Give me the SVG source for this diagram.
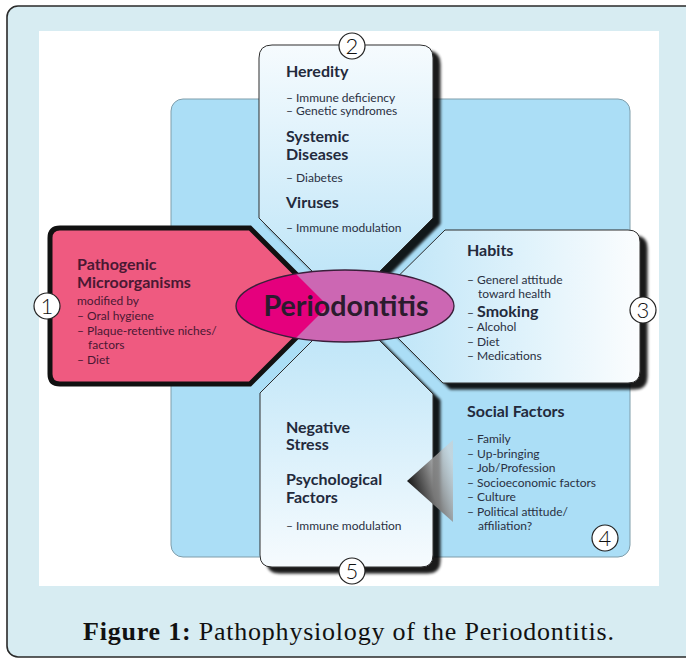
<svg xmlns="http://www.w3.org/2000/svg" width="686" height="659" viewBox="0 0 686 659">
<defs>
<style>
.h{font-family:Lato,"Open Sans",sans-serif;font-weight:bold;font-size:16px;fill:#232a3c}
.t{font-family:Lato,"Open Sans",sans-serif;font-size:12px;fill:#2a3042}
.p .h{fill:#4a1833}
.p .t{fill:#4a1833}
.num{font-family:Lato,"Open Sans",sans-serif;font-weight:300;font-size:22px;fill:#111;text-anchor:middle}
.nc{fill:#fff;stroke:#222;stroke-width:1.2}
.box{stroke:#2e2e2e;stroke-width:1}
</style>
<linearGradient id="g2" x1="0" y1="0" x2="0" y2="1"><stop offset="0" stop-color="#f6fbfe"/><stop offset="1" stop-color="#b9e3f7"/></linearGradient>
<linearGradient id="g3" x1="0" y1="0" x2="1" y2="0"><stop offset="0" stop-color="#b9e3f7"/><stop offset="1" stop-color="#fbfdfe"/></linearGradient>
<linearGradient id="g5" x1="0" y1="0" x2="0" y2="1"><stop offset="0" stop-color="#b9e3f7"/><stop offset="1" stop-color="#f6fbfe"/></linearGradient>
<linearGradient id="gt" gradientUnits="userSpaceOnUse" x1="407" y1="485" x2="455" y2="470"><stop offset="0" stop-color="#111"/><stop offset="0.45" stop-color="#777"/><stop offset="1" stop-color="#cfcfcf" stop-opacity="0.6"/></linearGradient>
<filter id="sh" x="-10%" y="-10%" width="130%" height="130%">
<feGaussianBlur in="SourceAlpha" stdDeviation="1.6"/>
<feOffset dx="7" dy="6" result="o"/>
<feComponentTransfer><feFuncA type="linear" slope="0.9"/></feComponentTransfer>
<feMerge><feMergeNode/><feMergeNode in="SourceGraphic"/></feMerge>
</filter>
<clipPath id="c1"><path d="M60,228 L250,228 L328,306 L250,384 L60,384 Q50,384 50,374 L50,238 Q50,228 60,228 Z"/></clipPath>
</defs>

<rect x="7" y="6" width="700" height="651" rx="11" fill="#d7ecf2" stroke="#2a2a2a" stroke-width="1.6"/>
<rect x="39" y="31" width="620" height="555" fill="#ffffff"/>
<rect x="171" y="99" width="459" height="458" rx="12" fill="#abdef6" stroke="#7f9daa" stroke-width="1"/>

<g id="node2">
<path class="box" filter="url(#sh)" fill="url(#g2)" d="M259,58 Q259,45 272,45 L420,45 Q433,45 433,58 L433,218 L346,305 L259,218 Z"/>
<text class="h" x="286" y="77" font-size="13.5">Heredity</text>
<text class="t" x="286" y="101.5">– Immune deficiency</text>
<text class="t" x="286" y="115">– Genetic syndromes</text>
<text class="h" x="286" y="141.5">Systemic</text>
<text class="h" x="286" y="160">Diseases</text>
<text class="t" x="286" y="182">– Diabetes</text>
<text class="h" x="286" y="207.5">Viruses</text>
<text class="t" x="286" y="232">– Immune modulation</text>
<circle class="nc" cx="352" cy="46" r="13"/>
<text class="num" x="352" y="54">2</text>
</g>

<g id="node3">
<path class="box" filter="url(#sh)" fill="url(#g3)" d="M445,230 L628,230 Q640,230 640,242 L640,371 Q640,383 628,383 L443,383 L367,307 Z"/>
<text class="h" x="467" y="256">Habits</text>
<text class="t" x="467" y="284">– Generel attitude</text>
<text class="t" x="478" y="298">toward health</text>
<text class="t" x="467" y="317">– <tspan class="h" font-size="16.5">Smoking</tspan></text>
<text class="t" x="467" y="331">– Alcohol</text>
<text class="t" x="467" y="346">– Diet</text>
<text class="t" x="467" y="360">– Medications</text>
<circle class="nc" cx="643" cy="310" r="13"/>
<text class="num" x="643" y="318">3</text>
</g>

<g id="node5">
<path class="box" filter="url(#sh)" fill="url(#g5)" d="M260,393 L346,307 L433,394 L433,555 Q433,567 421,567 L272,567 Q260,567 260,555 Z"/>
<text class="h" x="286" y="432.5">Negative</text>
<text class="h" x="286" y="450">Stress</text>
<text class="h" x="286" y="485" font-size="15.5">Psychological</text>
<text class="h" x="286" y="503" font-size="15.5">Factors</text>
<text class="t" x="286" y="530">– Immune modulation</text>
<circle class="nc" cx="352" cy="571" r="13"/>
<text class="num" x="352" y="579">5</text>
</g>

<g id="node1" class="p">
<path d="M60,228 L250,228 L328,306 L250,384 L60,384 Q50,384 50,374 L50,238 Q50,228 60,228 Z" fill="#ef5a80" stroke="#111" stroke-width="5" stroke-linejoin="miter"/>
<text class="h" x="77" y="270">Pathogenic</text>
<text class="h" x="77" y="288">Microorganisms</text>
<text class="t" x="77" y="305">modified by</text>
<text class="t" x="77" y="320">– Oral hygiene</text>
<text class="t" x="77" y="335">– Plaque-retentive niches/</text>
<text class="t" x="88" y="349">factors</text>
<text class="t" x="77" y="364">– Diet</text>
<circle class="nc" cx="47" cy="306" r="13"/>
<text class="num" x="47" y="314">1</text>
</g>

<g id="node4">
<text class="h" x="467" y="417">Social Factors</text>
<text class="t" x="467" y="443">– Family</text>
<text class="t" x="467" y="457.5">– Up-bringing</text>
<text class="t" x="467" y="472">– Job/Profession</text>
<text class="t" x="467" y="486.5">– Socioeconomic factors</text>
<text class="t" x="467" y="501">– Culture</text>
<text class="t" x="467" y="515.5">– Political attitude/</text>
<text class="t" x="478" y="530">affiliation?</text>
<circle class="nc" cx="605" cy="538" r="13"/>
<text class="num" x="605" y="546">4</text>
</g>

<g id="connectors">
<polygon points="407,481 453,440 453,522" fill="url(#gt)"/>
</g>

<g id="center">
<ellipse cx="345" cy="306" rx="109" ry="36" fill="#cc67b3"/>
<ellipse cx="345" cy="306" rx="109" ry="36" fill="#e5007d" clip-path="url(#c1)"/>
<ellipse cx="345" cy="306" rx="109" ry="36" fill="none" stroke="#3a1f3a" stroke-width="1.3"/>
<text x="346" y="315.5" text-anchor="middle" font-family="Lato,'Open Sans',sans-serif" font-weight="bold" font-size="28" fill="#2b1b2e" textLength="165" lengthAdjust="spacingAndGlyphs">Periodontitis</text>
</g>

<text x="83" y="640" font-family="'Liberation Serif','Times New Roman',serif" font-size="26" fill="#111" textLength="531" lengthAdjust="spacing"><tspan font-weight="bold">Figure 1:</tspan> Pathophysiology of the Periodontitis.</text>
</svg>
